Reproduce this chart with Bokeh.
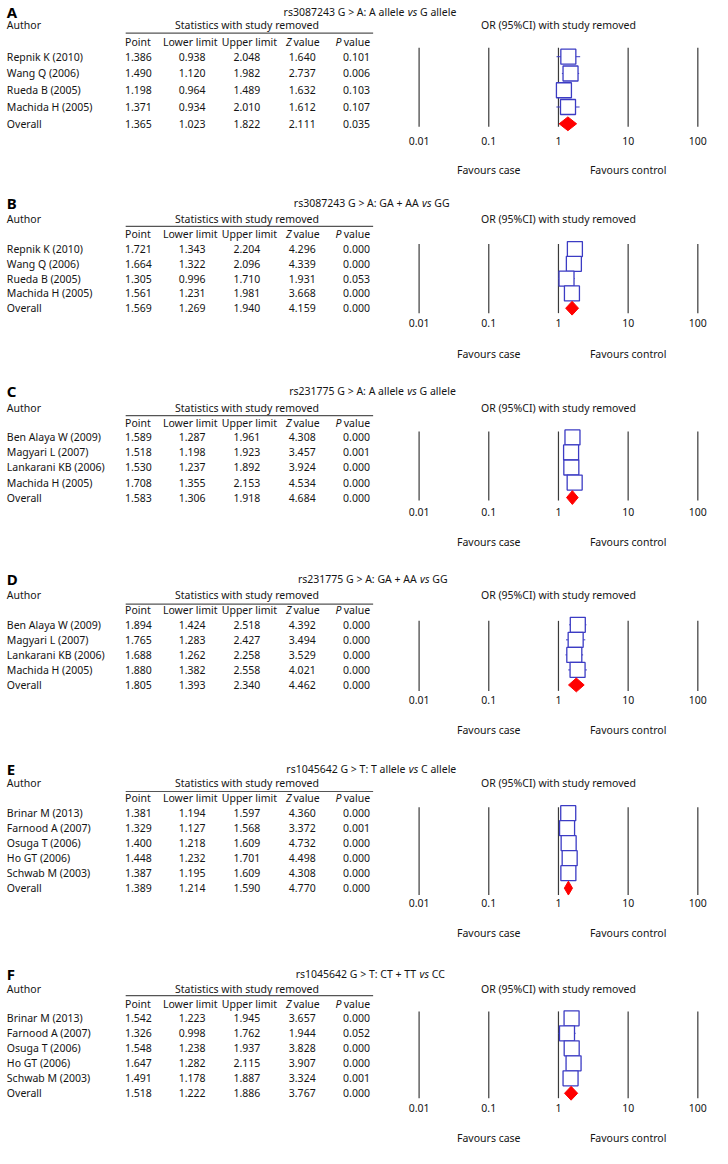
from bokeh.plotting import figure
from bokeh.models import Range1d, LogScale, ColumnDataSource
from bokeh.embed import file_html
from bokeh.resources import INLINE
from bokeh.core.properties import value

# ---------------- data ----------------
panel_letters = ["A", "B", "C", "D", "E", "F"]
title_left = ["rs3087243 G > A: A allele", "rs3087243 G > A: GA + AA",
              "rs231775 G > A: A allele", "rs231775 G > A: GA + AA",
              "rs1045642 G > T: T allele", "rs1045642 G > T: CT + TT"]
title_right = ["G allele", "GG", "G allele", "GG", "C allele", "CC"]

A_authors = ["Repnik K (2010)", "Wang Q (2006)", "Rueda B (2005)", "Machida H (2005)", "Overall"]
A_point = [1.386, 1.490, 1.198, 1.371, 1.365]
A_lower = [0.938, 1.120, 0.964, 0.934, 1.023]
A_upper = [2.048, 1.982, 1.489, 2.010, 1.822]
A_z = [1.640, 2.737, 1.632, 1.612, 2.111]
A_p = [0.101, 0.006, 0.103, 0.107, 0.035]

B_authors = ["Repnik K (2010)", "Wang Q (2006)", "Rueda B (2005)", "Machida H (2005)", "Overall"]
B_point = [1.721, 1.664, 1.305, 1.561, 1.569]
B_lower = [1.343, 1.322, 0.996, 1.231, 1.269]
B_upper = [2.204, 2.096, 1.710, 1.981, 1.940]
B_z = [4.296, 4.339, 1.931, 3.668, 4.159]
B_p = [0.000, 0.000, 0.053, 0.000, 0.000]

C_authors = ["Ben Alaya W (2009)", "Magyari L (2007)", "Lankarani KB (2006)", "Machida H (2005)", "Overall"]
C_point = [1.589, 1.518, 1.530, 1.708, 1.583]
C_lower = [1.287, 1.198, 1.237, 1.355, 1.306]
C_upper = [1.961, 1.923, 1.892, 2.153, 1.918]
C_z = [4.308, 3.457, 3.924, 4.534, 4.684]
C_p = [0.000, 0.001, 0.000, 0.000, 0.000]

D_authors = ["Ben Alaya W (2009)", "Magyari L (2007)", "Lankarani KB (2006)", "Machida H (2005)", "Overall"]
D_point = [1.894, 1.765, 1.688, 1.880, 1.805]
D_lower = [1.424, 1.283, 1.262, 1.382, 1.393]
D_upper = [2.518, 2.427, 2.258, 2.558, 2.340]
D_z = [4.392, 3.494, 3.529, 4.021, 4.462]
D_p = [0.000, 0.000, 0.000, 0.000, 0.000]

E_authors = ["Brinar M (2013)", "Farnood A (2007)", "Osuga T (2006)", "Ho GT (2006)", "Schwab M (2003)", "Overall"]
E_point = [1.381, 1.329, 1.400, 1.448, 1.387, 1.389]
E_lower = [1.194, 1.127, 1.218, 1.232, 1.195, 1.214]
E_upper = [1.597, 1.568, 1.609, 1.701, 1.609, 1.590]
E_z = [4.360, 3.372, 4.732, 4.498, 4.308, 4.770]
E_p = [0.000, 0.001, 0.000, 0.000, 0.000, 0.000]

F_authors = ["Brinar M (2013)", "Farnood A (2007)", "Osuga T (2006)", "Ho GT (2006)", "Schwab M (2003)", "Overall"]
F_point = [1.542, 1.326, 1.548, 1.647, 1.491, 1.518]
F_lower = [1.223, 0.998, 1.238, 1.282, 1.178, 1.222]
F_upper = [1.945, 1.762, 1.937, 2.115, 1.887, 1.886]
F_z = [3.657, 1.944, 3.828, 3.907, 3.324, 3.767]
F_p = [0.000, 0.052, 0.000, 0.000, 0.001, 0.000]

tick_values = [0.01, 0.1, 1, 10, 100]
tick_labels = ["0.01", "0.1", "1", "10", "100"]

panels = [
    (A_authors, A_point, A_lower, A_upper, A_z, A_p),
    (B_authors, B_point, B_lower, B_upper, B_z, B_p),
    (C_authors, C_point, C_lower, C_upper, C_z, C_p),
    (D_authors, D_point, D_lower, D_upper, D_z, D_p),
    (E_authors, E_point, E_lower, E_upper, E_z, E_p),
    (F_authors, F_point, F_lower, F_upper, F_z, F_p),
]

# ---------------- layout (reference pixel positions) ----------------
# title_y, hdr1_y, line_y, hdr2_y, row0, step, vs_x, vtop, vbot, tick_y, fav_y
layout = [
    (12, 25, 33, 42, 57, 17.0, 416.5, 48, 128, 142, 172),
    (205, 222, 229, 237, 252, 15.0, 431.0, 247, 317, 327, 358),
    (396, 413, 421, 428, 443, 15.25, 416.0, 437, 507, 519, 549),
    (587, 603, 612, 618, 633, 15.25, 429.0, 629, 700, 709, 740),
    (779, 793, 802, 809, 824, 15.2, 417.5, 818, 907, 915, 945),
    (987, 1002, 1009, 1017, 1032, 15.2, 428.5, 1025, 1113, 1123, 1153),
]
X_ONE = 570.5      # reference x of OR = 1
DECADE = 71.25     # reference pixels per decade
COL_X = [141, 196, 252, 308.5, 364]
HDR_X = [140.5, 194, 254.5]
W_REF, H_REF = 728, 1164

FONT = value("Noto Sans")
FS = "10.5px"
TXT = "#141414"
BLUE = "#3c3cc4"

p = figure(width=712, height=1148, x_range=Range1d(0, W_REF), y_range=Range1d(H_REF, 0),
           output_backend="svg", toolbar_location=None, min_border=0,
           x_axis_location=None, y_axis_location=None)
p.grid.visible = False
p.outline_line_color = None
p.background_fill_color = "white"
p.extra_x_ranges = {"or": Range1d(10 ** ((0 - X_ONE) / DECADE), 10 ** ((W_REF - X_ONE) / DECADE))}
p.extra_x_scales = {"or": LogScale()}


def txt(x, y, s, align="left", style="normal", size=FS, color=TXT, rng="default"):
    p.text(x=x, y=y, text=s, text_font=FONT, text_font_size=size, text_font_style=style,
           text_align=align, text_baseline="middle", text_color=color, x_range_name=rng)


for k, (data, L) in enumerate(zip(panels, layout)):
    authors, point, lower, upper, zv, pv = data
    title_y, hdr1, line_y, hdr2, row0, step, vs_x, vtop, vbot, tick_y, fav_y = L
    n = len(authors)
    ys = [row0 + i * step for i in range(n)]

    # panel letter and title
    txt([6.5], [title_y], [panel_letters[k]], style="bold", size="15px", color="black")
    txt([vs_x - 3.5], [title_y], [title_left[k]], align="right")
    txt([vs_x], [title_y], ["vs"], style="italic")
    txt([vs_x + 12.5], [title_y], [title_right[k]])

    # headers
    txt([6.5], [hdr1], ["Author"])
    txt([252], [hdr1], ["Statistics with study removed"], align="center")
    txt([1], [hdr1], ["OR (95%CI) with study removed"], align="center", rng="or")
    p.segment(x0=[128], y0=[line_y], x1=[381], y1=[line_y], line_color="#555555", line_width=1.2)
    txt(HDR_X, [hdr2] * 3, ["Point", "Lower limit", "Upper limit"], align="center")
    txt([297.5], [hdr2], ["Z"], align="right", style="italic")
    txt([299.5], [hdr2], ["value"])
    txt([348.5], [hdr2], ["P"], align="right", style="italic")
    txt([351], [hdr2], ["value"])

    # table rows
    src = ColumnDataSource(dict(
        y=ys, author=authors,
        pt=[f"{v:.3f}" for v in point], lo=[f"{v:.3f}" for v in lower],
        hi=[f"{v:.3f}" for v in upper], z=[f"{v:.3f}" for v in zv], pv=[f"{v:.3f}" for v in pv],
    ))
    p.text(x=6.5, y="y", text="author", source=src, text_font=FONT, text_font_size=FS,
           text_baseline="middle", text_align="left", text_color=TXT)
    for cx, col in zip(COL_X, ["pt", "lo", "hi", "z", "pv"]):
        p.text(x=cx, y="y", text=col, source=src, text_font=FONT, text_font_size=FS,
               text_baseline="middle", text_align="center", text_color=TXT)

    # forest plot reference lines
    p.segment(x0=tick_values, y0=[vtop] * 5, x1=tick_values, y1=[vbot] * 5,
              x_range_name="or", line_color="#3a3a3a", line_width=1.2)
    txt(tick_values, [tick_y] * 5, tick_labels, align="center", rng="or")
    txt([0.1, 10], [fav_y] * 2, ["Favours case", "Favours control"], align="center", rng="or")

    # studies: whiskers + boxes
    st = ColumnDataSource(dict(y=ys[:-1], pt=point[:-1], lo=lower[:-1], hi=upper[:-1]))
    p.segment(x0="lo", y0="y", x1="hi", y1="y", source=st, x_range_name="or",
              line_color=BLUE, line_width=1)
    p.rect(x="pt", y="y", width=15, height=15, width_units="screen", height_units="screen",
           source=st, x_range_name="or", fill_color="white", line_color=BLUE, line_width=1.3)

    # overall diamond
    yo = ys[-1]
    p.patches(xs=[[lower[-1], point[-1], upper[-1], point[-1]]],
              ys=[[yo, yo - 7, yo, yo + 7]], x_range_name="or",
              fill_color="#ff0000", line_color="#ff0000", line_width=1)

open("out.html", "w").write(file_html(p, INLINE))
